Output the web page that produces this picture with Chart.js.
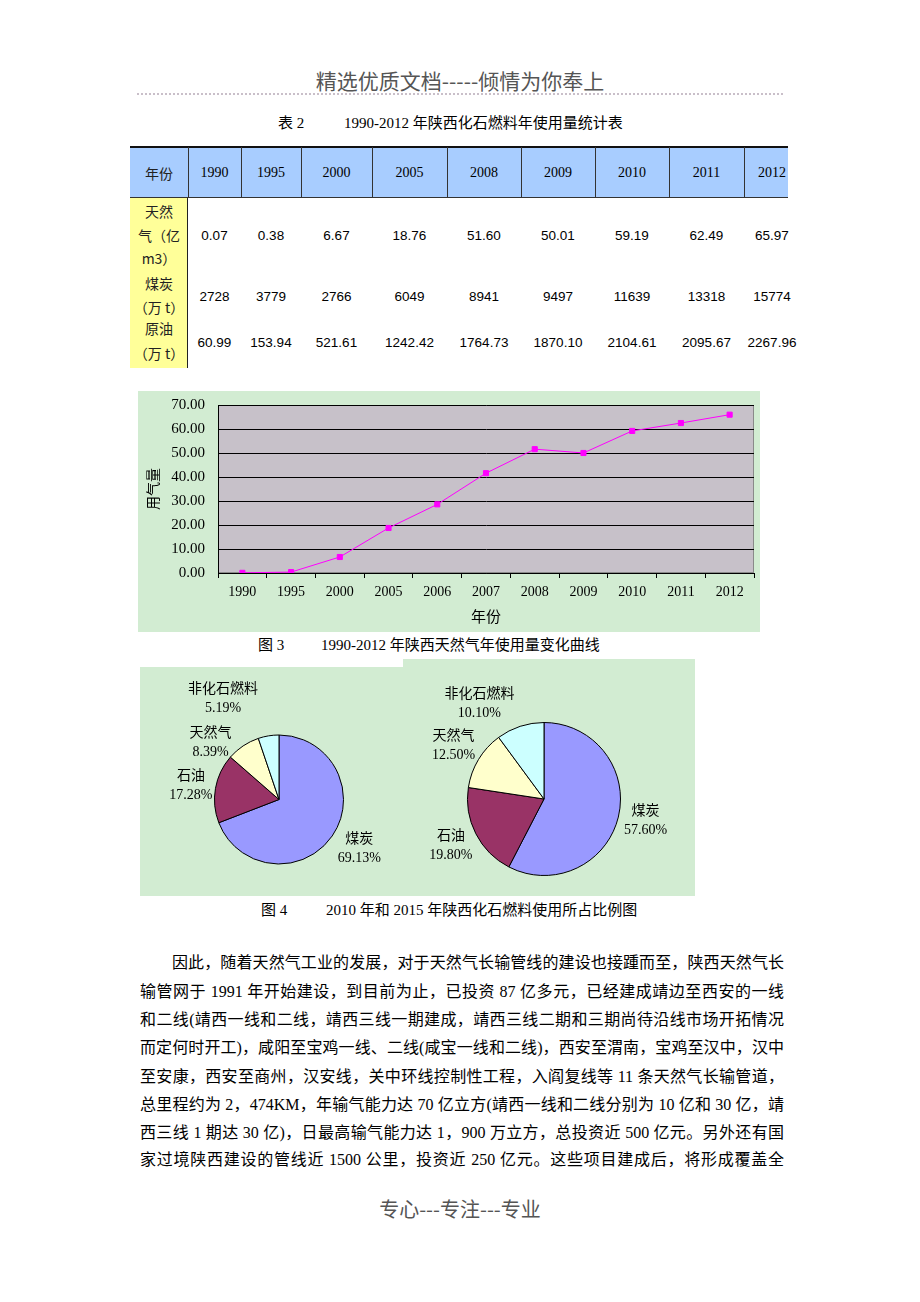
<!DOCTYPE html>
<html>
<head>
<meta charset="utf-8">
<script src="https://cdn.jsdelivr.net/npm/chart.js"></script>
<style>
  body { margin: 0; background: #fff; }
  #page { position: relative; width: 920px; height: 1302px; overflow: hidden;
          font-family: "Liberation Serif", "Noto Sans CJK SC", serif; color: #000; }
  .abs { position: absolute; white-space: nowrap; }
  .para { position: absolute; font-size: 16px; line-height: 20px; text-align: justify;
          text-align-last: justify; white-space: normal; transform: translateY(-50%); }
  canvas { position: absolute; background: #d2ecd2; }
</style>
</head>
<body>
<div id="page">
  <div class="abs" style="left:0;width:920px;top:66px;text-align:center;font-family:'Noto Sans CJK SC';font-size:21px;color:#555;line-height:28px">精选优质文档-----倾情为你奉上</div>
  <div class="abs" style="left:137px;top:93px;width:646px;height:0;border-top:2px dotted #c9bfc9"></div>

  <div class="abs" style="left:278px;top:114px;font-size:15px;line-height:18px">表 2</div>
  <div class="abs" style="left:344px;top:114px;font-size:15px;line-height:18px">1990-2012 年陕西化石燃料年使用量统计表</div>

  <div id="table"></div>

  <canvas id="curve" width="622" height="241" style="left:138px;top:391px"></canvas>
  <div class="abs" style="left:258px;top:636px;font-size:15px;line-height:18px">图 3</div>
  <div class="abs" style="left:321px;top:636px;font-size:15px;line-height:18px">1990-2012 年陕西天然气年使用量变化曲线</div>

  <canvas id="pie2010" width="265" height="229" style="left:140px;top:667px"></canvas>
  <canvas id="pie2015" width="292" height="237" style="left:403px;top:659px"></canvas>
  <div class="abs" style="left:261px;top:901px;font-size:15px;line-height:18px">图 4</div>
  <div class="abs" style="left:326px;top:901px;font-size:15px;line-height:18px">2010 年和 2015 年陕西化石燃料使用所占比例图</div>

  <div id="text"></div>

  <div class="abs" style="left:0;width:920px;top:1195px;text-align:center;font-family:'Noto Sans CJK SC';font-size:20px;color:#555;line-height:28px">专心---专注---专业</div>
</div>

<script>
// table 2
const tableYears = ['1990', '1995', '2000', '2005', '2008', '2009', '2010', '2011', '2012'];
const gasValues = [0.07, 0.38, 6.67, 18.76, 51.60, 50.01, 59.19, 62.49, 65.97];
const coalValues = [2728, 3779, 2766, 6049, 8941, 9497, 11639, 13318, 15774];
const oilValues = [60.99, 153.94, 521.61, 1242.42, 1764.73, 1870.10, 2104.61, 2095.67, 2267.96];

// figure 3
const curveYears = ['1990', '1995', '2000', '2005', '2006', '2007', '2008', '2009', '2010', '2011', '2012'];
const curveGas = [0.07, 0.38, 6.67, 18.76, 28.6, 41.6, 51.60, 50.01, 59.19, 62.49, 65.97];

// figure 4
const fuelNames = ['煤炭', '石油', '天然气', '非化石燃料'];
const share2010 = [69.13, 17.28, 8.39, 5.19];
const share2015 = [57.60, 19.80, 12.50, 10.10];
const fuelColors = ['#9999ff', '#993366', '#ffffcc', '#ccffff'];

const paragraph = [
    '因此，随着天然气工业的发展，对于天然气长输管线的建设也接踵而至，陕西天然气长',
    '输管网于 1991 年开始建设，到目前为止，已投资 87 亿多元，已经建成靖边至西安的一线',
    '和二线(靖西一线和二线，靖西三线一期建成，靖西三线二期和三期尚待沿线市场开拓情况',
    '而定何时开工)，咸阳至宝鸡一线、二线(咸宝一线和二线)，西安至渭南，宝鸡至汉中，汉中',
    '至安康，西安至商州，汉安线，关中环线控制性工程，入阎复线等 11 条天然气长输管道，',
    '总里程约为 2，474KM，年输气能力达 70 亿立方(靖西一线和二线分别为 10 亿和 30 亿，靖',
    '西三线 1 期达 30 亿)，日最高输气能力达 1，900 万立方，总投资近 500 亿元。另外还有国',
    '家过境陕西建设的管线近 1500 公里，投资近 250 亿元。这些项目建成后，将形成覆盖全'
];

// ---------- table ----------
const table = document.getElementById('table');
const colEdges = [130, 188, 241, 301, 372, 447, 521, 595, 669, 744, 800];

function addDiv(style, text) {
    const d = document.createElement('div');
    d.setAttribute('style', style);
    if (text !== undefined) d.textContent = text;
    table.appendChild(d);
    return d;
}

addDiv('position:absolute;left:130px;top:147px;width:658px;height:51px;background:#a8cdff');
addDiv('position:absolute;left:130px;top:146px;width:658px;height:0;border-top:2px solid #111');
addDiv('position:absolute;left:130px;top:197px;width:658px;height:0;border-top:1px solid #333');
addDiv('position:absolute;left:130px;top:198px;width:58px;height:170px;background:#ffff99;border-right:1px solid #222;box-sizing:border-box');
for (let i = 1; i < colEdges.length - 1; i++) {
    addDiv('position:absolute;left:' + colEdges[i] + 'px;top:147px;width:0;height:51px;border-left:1px solid #333');
}

function cellText(col, y, text, font) {
    const l = colEdges[col], w = colEdges[col + 1] - l;
    return addDiv('position:absolute;left:' + l + 'px;width:' + w + 'px;top:' + y + 'px;text-align:center;transform:translateY(-50%);white-space:nowrap;' + font, text);
}

const serif14 = 'font-family:"Liberation Serif";font-size:14px;';
const cjk14 = 'font-family:"Noto Sans CJK SC";font-size:14px;color:#222;';
const arial = 'font-family:"Liberation Sans";font-size:13.5px;';

cellText(0, 173, '年份', cjk14);
tableYears.forEach((y, i) => cellText(i + 1, 173, y, serif14));

[['天然', 211], ['气（亿', 235], ['m3）', 258], ['煤炭', 283], ['（万 t）', 307], ['原油', 328], ['（万 t）', 353]]
    .forEach(r => cellText(0, r[1], r[0], cjk14));

gasValues.forEach((v, i) => cellText(i + 1, 235, v.toFixed(2), arial));
coalValues.forEach((v, i) => cellText(i + 1, 296, String(v), arial));
oilValues.forEach((v, i) => cellText(i + 1, 342, v.toFixed(2), arial));

// ---------- paragraph ----------
const textBox = document.getElementById('text');
const lineY = [963, 992, 1020, 1048, 1077, 1105, 1133, 1160];
paragraph.forEach((line, i) => {
    const d = document.createElement('div');
    d.className = 'para';
    const left = i === 0 ? 172 : 140;
    d.style.left = left + 'px';
    d.style.width = (784 - left) + 'px';
    d.style.top = lineY[i] + 'px';
    d.textContent = line;
    textBox.appendChild(d);
});

// ---------- figure 3 ----------
const plotBackground = {
    id: 'plotBackground',
    beforeDraw(chart) {
        const {ctx, chartArea: a} = chart;
        ctx.save();
        ctx.fillStyle = '#c7c1c9';
        ctx.fillRect(a.left, a.top, a.right - a.left, a.bottom - a.top);
        ctx.strokeStyle = '#8a8a8a';
        ctx.lineWidth = 1;
        ctx.strokeRect(a.left + 0.5, a.top + 0.5, a.right - a.left - 1, a.bottom - a.top - 1);
        ctx.restore();
    }
};

new Chart(document.getElementById('curve'), {
    type: 'line',
    data: {
        labels: curveYears,
        datasets: [{
            data: curveGas,
            borderColor: '#ff00ff',
            backgroundColor: '#ff00ff',
            borderWidth: 1,
            pointStyle: 'rect',
            pointRadius: 3.6,
            pointBorderWidth: 1,
            tension: 0
        }]
    },
    options: {
        responsive: false,
        devicePixelRatio: 1,
        animation: false,
        layout: {autoPadding: false, padding: {top: 14, right: 6, left: 0, bottom: 0}},
        plugins: {legend: {display: false}, tooltip: {enabled: false}},
        scales: {
            x: {
                offset: true,
                grid: {display: true, offset: true, drawOnChartArea: false, drawTicks: true, tickLength: 5, color: '#000'},
                border: {display: true, color: '#000'},
                ticks: {color: '#000', font: {family: '"Liberation Serif"', size: 14}, padding: 6, maxRotation: 0, autoSkip: false},
                title: {display: true, text: '年份', color: '#000', font: {family: '"Noto Sans CJK SC"', size: 15}, padding: 7},
                afterFit(scale) {
                    scale.height = 59;
                    scale.paddingLeft = 0;
                    scale.paddingRight = 0;
                }
            },
            y: {
                min: 0,
                max: 70,
                grid: {color: '#000', drawTicks: false},
                border: {display: true, color: '#000'},
                ticks: {stepSize: 10, color: '#000', padding: 13, font: {family: '"Liberation Serif"', size: 15},
                        callback: v => v.toFixed(2)},
                title: {display: true, text: '用气量', color: '#000', font: {family: '"Noto Sans CJK SC"', size: 14}, padding: 6},
                afterFit(scale) {
                    scale.width = 80;
                    scale.paddingTop = 0;
                    scale.paddingBottom = 0;
                }
            }
        }
    },
    plugins: [plotBackground]
});

// ---------- figure 4 ----------
function pieLabels(nudges) {
    return {
        id: 'pieLabels',
        afterDraw(chart) {
            const {ctx} = chart;
            const meta = chart.getDatasetMeta(0);
            const values = chart.data.datasets[0].data;
            ctx.save();
            ctx.fillStyle = '#000';
            ctx.textAlign = 'center';
            ctx.textBaseline = 'middle';
            ctx.font = '14px "Liberation Serif", "Noto Sans CJK SC"';
            meta.data.forEach((arc, i) => {
                const mid = (arc.startAngle + arc.endAngle) / 2;
                const rr = arc.outerRadius + 28;
                const x = arc.x + Math.cos(mid) * rr + nudges[i][0];
                const y = arc.y + Math.sin(mid) * rr + nudges[i][1];
                ctx.fillText(chart.data.labels[i], x, y - 9.5);
                ctx.fillText(values[i].toFixed(2) + '%', x, y + 9.5);
            });
            ctx.restore();
        }
    };
}

function makePie(id, values, padding, nudges) {
    new Chart(document.getElementById(id), {
        type: 'pie',
        data: {
            labels: fuelNames,
            datasets: [{
                data: values,
                backgroundColor: fuelColors,
                borderColor: '#000',
                borderWidth: 1,
                hoverOffset: 0,
                offset: 0
            }]
        },
        options: {
            responsive: false,
            devicePixelRatio: 1,
            animation: false,
            layout: {padding: padding},
            plugins: {legend: {display: false}, tooltip: {enabled: false}}
        },
        plugins: [pieLabels(nudges)]
    });
}

makePie('pie2010', share2010, {left: 74, top: 67, right: 61, bottom: 31},
        [[4, -3], [3, 2], [-17, 20], [-41, -9]]);
makePie('pie2015', share2015, {left: 64, top: 63, right: 74, bottom: 20},
        [[0, -3], [0, -1], [-1, 1], [-32, 4]]);
</script>
</body>
</html>
